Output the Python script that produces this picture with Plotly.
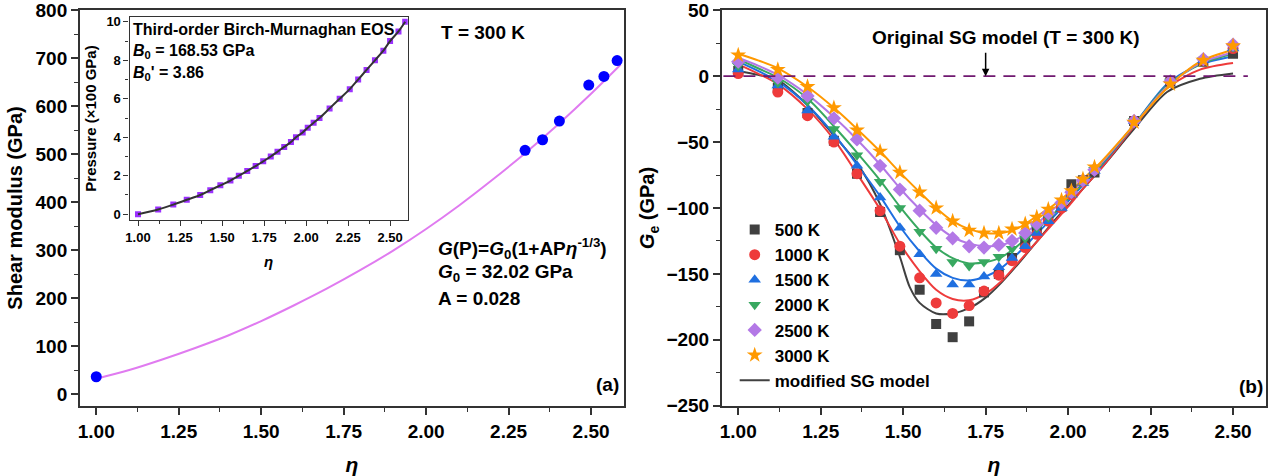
import plotly.graph_objects as go

F = "Liberation Sans, Arial, sans-serif"

# ---------------- Panel (a) data ----------------
eta_a_pts = [1.00, 2.30, 2.353, 2.404, 2.493, 2.539, 2.579]
G_a_pts = [36, 508, 530, 569, 644, 662, 695]

eta_a_fit = [1.00, 1.10, 1.20, 1.30, 1.40, 1.50, 1.60, 1.70, 1.80, 1.90, 2.00,
             2.10, 2.20, 2.30, 2.40, 2.50, 2.59]
G_a_fit = [32, 50, 72, 96, 122, 152, 185, 220, 258, 299, 344,
           393, 446, 502, 562, 626, 687]

# inset: pressure (x100 GPa) vs eta
eta_in = [1.00, 1.12, 1.21, 1.29, 1.37, 1.43, 1.49, 1.55, 1.60, 1.65, 1.70, 1.745, 1.79,
          1.83, 1.87, 1.91, 1.94, 1.98, 2.01, 2.045, 2.08, 2.14, 2.20, 2.26, 2.31, 2.36,
          2.41, 2.46, 2.50, 2.55, 2.59]
P_in = [0, 0.25, 0.5, 0.75, 1.0, 1.25, 1.5, 1.75, 2.0, 2.25, 2.5, 2.75, 3.0,
        3.25, 3.5, 3.75, 4.0, 4.25, 4.5, 4.75, 5.0, 5.5, 6.0, 6.5, 7.0, 7.5,
        8.0, 8.5, 9.0, 9.5, 10.0]

# ---------------- Panel (b) data ----------------
temps = ["500 K", "1000 K", "1500 K", "2000 K", "2500 K", "3000 K"]
eta_b = [1.00, 1.12, 1.21, 1.29, 1.36, 1.43, 1.49, 1.55, 1.60, 1.65, 1.70, 1.745, 1.79,
         1.83, 1.87, 1.905, 1.94, 1.98, 2.01, 2.045, 2.08, 2.20, 2.31, 2.41, 2.50]
Ge_500 = [4, -9, -28, -49, -74, -103, -132, -162, -188, -198, -186, -164, -150,
          -138, -126, -117, -108, -99, -82, -79, -73, -34, -4, 11, 17]
Ge_1000 = [2, -12, -30, -50, -74, -102, -129, -153, -172, -180, -174, -163, -151,
           -140, -130, -120, -110, -100, -90, -80, -71, -34, -4, 12, 21]
Ge_1500 = [5, -7, -26, -46, -68, -92, -115, -135, -150, -158, -158, -152, -145,
           -138, -129, -119, -110, -100, -90, -81, -72, -34, -3, 12, 21]
Ge_2000 = [8, -5, -19, -40, -60, -80, -100, -118, -131, -141, -144, -141, -137,
           -131, -123, -115, -107, -98, -89, -80, -71, -34, -4, 12, 22]
Ge_2500 = [11, -1, -15, -32, -48, -68, -86, -102, -115, -123, -129, -130, -128,
           -125, -119, -112, -104, -96, -88, -79, -71, -34, -4, 13, 24]
Ge_3000 = [16, 5, -8, -24, -41, -57, -73, -88, -100, -110, -117, -119, -119,
           -116, -112, -107, -101, -94, -87, -78, -69, -35, -6, 12, 23]

# modified SG model fits
fit_eta = [1.00, 1.06, 1.12, 1.21, 1.29, 1.36, 1.43, 1.49, 1.55, 1.60, 1.65, 1.70,
           1.75, 1.80, 1.85, 1.90, 1.95, 2.00, 2.05, 2.10, 2.20, 2.30, 2.40, 2.50]
fit_1000 = [9, 2, -6, -25, -48, -74, -101, -127, -148, -162, -169, -170,
            -165, -155, -141, -127, -113, -99, -84, -70, -38, -9, 5, 10]
fit_1500 = [11, 4, -4, -22, -44, -67, -91, -114, -133, -146, -153, -155,
            -152, -145, -134, -121, -108, -95, -81, -68, -37, -6, 9, 15]
fit_2000 = [13, 6, -1, -17, -38, -58, -79, -99, -117, -130, -138, -142,
            -141, -137, -128, -117, -106, -93, -80, -67, -37, -7, 9, 17]
fit_2500 = [14, 8, 1, -14, -31, -48, -67, -85, -101, -113, -122, -127,
            -129, -128, -123, -113, -102, -91, -78, -66, -37, -8, 10, 18]
fit_3000 = [17, 12, 6, -8, -24, -40, -57, -73, -88, -100, -110, -116,
            -119, -119, -115, -107, -99, -89, -77, -65, -37, -9, 11, 20]
fit500_eta = [1.00, 1.06, 1.12, 1.21, 1.29, 1.36, 1.43, 1.49, 1.52, 1.55, 1.60, 1.65,
              1.70, 1.75, 1.80, 1.85, 1.90, 1.95, 2.00, 2.05, 2.10, 2.20, 2.30, 2.40, 2.50]
fit_500 = [4, 1, -3, -22, -45, -66, -97, -137, -160, -172, -180, -180,
           -176, -168, -156, -142, -127, -112, -98, -84, -70, -40, -12, -2, 2]

colors = ["#404040", "#EE3B3B", "#1F6FE0", "#38A860", "#B378E6", "#FF9900"]
symbols = ["square", "circle", "triangle-up", "triangle-down", "diamond", "star"]
sizes = [10, 11, 11, 11, 11, 12]
pts = [Ge_500, Ge_1000, Ge_1500, Ge_2000, Ge_2500, Ge_3000]
fits = [(fit500_eta, fit_500), (fit_eta, fit_1000), (fit_eta, fit_1500),
        (fit_eta, fit_2000), (fit_eta, fit_2500), (fit_eta, fit_3000)]

fig = go.Figure()

# ---- panel (a) ----
fig.add_trace(go.Scatter(x=eta_a_fit, y=G_a_fit, mode="lines", line=dict(color="#E07BF0", width=2, shape="spline"),
                         xaxis="x", yaxis="y", showlegend=False))
fig.add_trace(go.Scatter(x=eta_a_pts, y=G_a_pts, mode="markers", marker=dict(color="#0000FF", size=11),
                         xaxis="x", yaxis="y", showlegend=False))
# inset
fig.add_trace(go.Scatter(x=eta_in, y=P_in, mode="markers", marker=dict(color="#9B30FF", size=6, symbol="square"),
                         xaxis="x3", yaxis="y3", showlegend=False))
fig.add_trace(go.Scatter(x=eta_in, y=P_in, mode="lines", line=dict(color="#333333", width=2, shape="spline"),
                         xaxis="x3", yaxis="y3", showlegend=False))

# ---- panel (b) ----
for i in range(6):
    fx, fy = fits[i]
    fig.add_trace(go.Scatter(x=fx, y=fy, mode="lines",
                             line=dict(color=colors[i], width=2, shape="spline", smoothing=0.8),
                             xaxis="x2", yaxis="y2",
                             name="modified SG model", showlegend=(i == 0), legendrank=100))
for i in range(6):
    fig.add_trace(go.Scatter(x=eta_b, y=pts[i], mode="markers",
                             marker=dict(color=colors[i], symbol=symbols[i], size=sizes[i], line=dict(width=0)),
                             xaxis="x2", yaxis="y2", name=temps[i], legendrank=i + 1))

tickfont = dict(family=F, size=19, color="black", weight="bold")
minor_base = dict(ticks="outside", ticklen=4, tickwidth=1.3, tickcolor="#333", showgrid=False)


def axis(**kw):
    d = dict(showline=True, linecolor="#333", linewidth=1.5, mirror=True, ticks="outside",
             ticklen=7, tickwidth=1.5, tickcolor="#333", showgrid=False, zeroline=False,
             tickfont=tickfont, ticklabeloverflow="allow")
    d.update(kw)
    return d


W, H = 1274, 476
fig.update_layout(
    width=W, height=H, margin=dict(l=0, r=0, t=10, b=70),
    paper_bgcolor="white", plot_bgcolor="white",
    font=dict(family=F, color="black"),
    xaxis=axis(domain=[76 / W, 622 / W], range=[0.95, 2.6], tick0=1, dtick=0.25, tickformat=".2f",
               minor=dict(dtick=0.125, **minor_base), anchor="y",
               title=dict(text="<i>η</i>", font=dict(family=F, size=21, weight="bold"), standoff=18)),
    yaxis=axis(domain=[0, 1], range=[-25, 800.5], tick0=0, dtick=100,
               minor=dict(dtick=50, **minor_base), anchor="x",
               title=dict(text="Shear modulus (GPa)", font=dict(family=F, size=20, weight="bold"), standoff=8)),
    xaxis2=axis(domain=[720 / W, 1266 / W], range=[0.95, 2.6], tick0=1, dtick=0.25, tickformat=".2f",
                minor=dict(dtick=0.125, **minor_base), anchor="y2",
                title=dict(text="<i>η</i>", font=dict(family=F, size=21, weight="bold"), standoff=18)),
    yaxis2=axis(domain=[0, 1], range=[-250.2, 50.2], tick0=0, dtick=50,
                minor=dict(dtick=25, **minor_base), anchor="x2",
                title=dict(text="<i>G</i><sub>e</sub> (GPa)", font=dict(family=F, size=20, weight="bold"), standoff=6)),
    xaxis3=axis(domain=[126 / W, 405 / W], range=[0.95, 2.605], tick0=1, dtick=0.25, tickformat=".2f",
                minor=dict(dtick=0.125, ticks="outside", ticklen=3, tickwidth=1, tickcolor="#333"),
                anchor="y3", ticklen=5, tickwidth=1.2, linewidth=1.3,
                tickfont=dict(family=F, size=13, color="black", weight="bold"),
                title=dict(text="<i>η</i>", font=dict(family=F, size=15, weight="bold"), standoff=12)),
    yaxis3=axis(domain=[(406 - 220) / 396, (406 - 17) / 396], range=[-0.3, 10.25], tick0=0, dtick=2,
                minor=dict(dtick=1, ticks="outside", ticklen=3, tickwidth=1, tickcolor="#333"),
                anchor="x3", ticklen=5, tickwidth=1.2, linewidth=1.3,
                tickfont=dict(family=F, size=13, color="black", weight="bold"),
                title=dict(text="Pressure (×100 GPa)", font=dict(family=F, size=15, weight="bold"), standoff=6)),
    legend=dict(x=733 / W, y=(406 - 212) / 396, xanchor="left", yanchor="top",
                bgcolor="rgba(0,0,0,0)", borderwidth=0, tracegroupgap=0,
                font=dict(family=F, size=17, color="black", weight="bold")),
)

fig.add_shape(type="line", xref="x2", yref="y2", x0=0.955, x1=2.545, y0=0, y1=0,
              line=dict(color="#701870", width=1.8, dash="12px,8px"))

ann = []
afont = dict(family=F, size=19, color="black")
ann.append(dict(xref="x", yref="y", x=2.04, y=754, text="<b>T = 300 K</b>", showarrow=False,
                xanchor="left", yanchor="middle", font=afont))
ann.append(dict(xref="x", yref="y", x=2.03, y=304,
                text="<b><i>G</i>(P)=<i>G</i><sub>0</sub>(1+AP<i>η</i><sup>-1/3</sup>)</b>",
                showarrow=False, xanchor="left", yanchor="middle", font=afont))
ann.append(dict(xref="x", yref="y", x=2.03, y=252, text="<b><i>G</i><sub>0</sub> = 32.02 GPa</b>",
                showarrow=False, xanchor="left", yanchor="middle", font=afont))
ann.append(dict(xref="x", yref="y", x=2.03, y=200, text="<b>A = 0.028</b>",
                showarrow=False, xanchor="left", yanchor="middle", font=afont))
ann.append(dict(xref="x", yref="y", x=2.592, y=19, text="<b>(a)</b>",
                showarrow=False, xanchor="right", yanchor="middle", font=afont))
# inset texts
ifont = dict(family=F, size=16, color="black")
ann.append(dict(xref="x3", yref="y3", x=0.96, y=9.6, text="<b>Third-order Birch-Murnaghan EOS</b>",
                showarrow=False, xanchor="left", yanchor="middle", font=ifont))
ann.append(dict(xref="x3", yref="y3", x=0.96, y=8.45, text="<b><i>B</i><sub>0</sub> = 168.53 GPa</b>",
                showarrow=False, xanchor="left", yanchor="middle", font=ifont))
ann.append(dict(xref="x3", yref="y3", x=0.96, y=7.3, text="<b><i>B</i><sub>0</sub>' = 3.86</b>",
                showarrow=False, xanchor="left", yanchor="middle", font=ifont))
# panel b texts
ann.append(dict(xref="x2", yref="y2", x=1.813, y=29.5, text="<b>Original SG model (T = 300 K)</b>",
                showarrow=False, xanchor="center", yanchor="middle", font=afont))
ann.append(dict(xref="x2", yref="y2", x=1.75, y=0, ax=1.75, ay=19, axref="x2", ayref="y2",
                text="", showarrow=True, arrowhead=2, arrowsize=1, arrowwidth=1.5, arrowcolor="black"))
ann.append(dict(xref="x2", yref="y2", x=2.597, y=-235.5, text="<b>(b)</b>",
                showarrow=False, xanchor="right", yanchor="middle", font=afont))
fig.update_layout(annotations=ann)

fig.write_html("out.html", config={"displayModeBar": False},
               post_script="document.body.style.margin='0px';document.body.style.padding='0px';")
